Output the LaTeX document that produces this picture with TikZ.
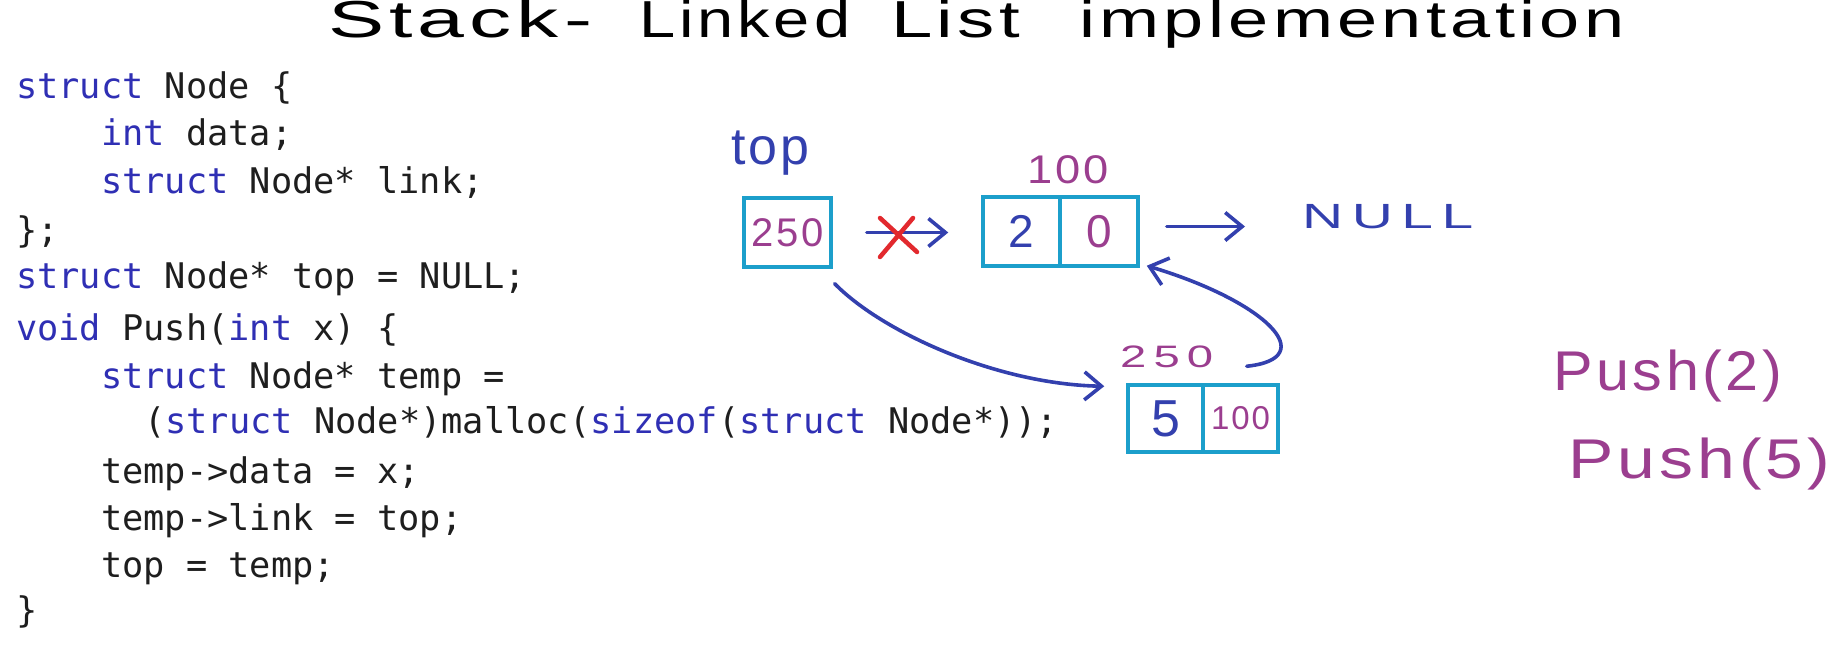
\documentclass[tikz,border=0pt]{standalone}
\usepackage{fontspec}
\usepackage{graphicx}
\setmainfont{Liberation Sans}
\newfontfamily\codefont{DejaVu Sans Mono}
\newfontfamily\hand[LetterSpace=6]{Liberation Sans}
\newfontfamily\handmid[LetterSpace=15]{Liberation Sans}
\usetikzlibrary{arrows.meta}
\definecolor{kw}{HTML}{2F2FB4}
\definecolor{codeblack}{HTML}{1E1E1E}
\definecolor{boxcol}{HTML}{1C9FCB}
\definecolor{inkblue}{HTML}{3340AE}
\definecolor{inkpurple}{HTML}{9B3E8F}
\definecolor{inkred}{HTML}{E2292E}
\newcommand{\kw}[1]{\textcolor{kw}{#1}}
\newcommand{\fitw}[2]{\resizebox{#1}{\height}{#2}}
\begin{document}
\begin{tikzpicture}[x=1pt,y=-1pt,
  code/.style={anchor=base west, inner sep=0, font=\codefont\fontsize{35.3}{40}\selectfont, text=codeblack},
  cell/.style={draw=boxcol, line width=3.5pt, inner sep=0},
  ink/.style={text=inkblue, inner sep=0},
  pink/.style={text=inkpurple, inner sep=0},
  arr/.style={draw=inkblue, line width=3.6pt, line cap=round, line join=round,
    -{Straight Barb[length=17pt,width=28pt]}},
  xmark/.style={draw=inkred, line width=4.5pt, line cap=round}
]
\fill[white] (0,0) rectangle (1839,661);
\useasboundingbox (0,0) rectangle (1839,661);

% title
\node[anchor=base west, inner sep=0, text=black, font=\hand\fontsize{52}{52}\selectfont] (title) at (328,38)
  {\fitw{264pt}{Stack-}\hspace{47pt}\fitw{211pt}{Linked}\hspace{41pt}\fitw{129pt}{List}\hspace{59pt}\fitw{545pt}{implementation}};

% code
\node[code] (c1) at (16,98) {\kw{struct} Node \{};
\node[code] (c2) at (101,145) {\kw{int} data;};
\node[code] (c3) at (101,193) {\kw{struct} Node* link;};
\node[code] (c4) at (16,242) {\};};
\node[code] (c5) at (16,288) {\kw{struct} Node* top = NULL;};
\node[code] (c6) at (16,340) {\kw{void} Push(\kw{int} x) \{};
\node[code] (c7) at (101,388) {\kw{struct} Node* temp =};
\node[code] (c8) at (144,433) {(\kw{struct} Node*)malloc(\kw{sizeof}(\kw{struct} Node*));};
\node[code] (c9) at (101,483) {temp->data = x;};
\node[code] (c10) at (101,530) {temp->link = top;};
\node[code] (c11) at (101,577) {top = temp;};
\node[code] (c12) at (16,622) {\}};

% boxes
\node[cell, minimum width=87pt, minimum height=69pt, pink, font=\hand\fontsize{40}{40}\selectfont] (topbox) at (787.5,232.5) {250};
\node[cell, minimum width=77pt, minimum height=69pt, ink, font=\hand\fontsize{46}{46}\selectfont] (n1a) at (1021.5,231.5) {2};
\node[cell, minimum width=78pt, minimum height=69pt, pink, font=\hand\fontsize{46}{46}\selectfont] (n1b) at (1099,231.5) {0};
\node[cell, minimum width=75pt, minimum height=67pt, ink, font=\hand\fontsize{52}{52}\selectfont] (n2a) at (1165.5,418.5) {5};
\node[cell, minimum width=75pt, minimum height=67pt, pink, font=\hand\fontsize{33}{33}\selectfont] (n2b) at (1240.5,418.5) {100};

% labels
\node[ink, anchor=base west, font=\hand\fontsize{52}{52}\selectfont] (toplbl) at (731,164) {top};
\node[pink, anchor=base west, font=\hand\fontsize{40}{40}\selectfont] (lbl100) at (1027,183) {\fitw{81pt}{100}};
\node[ink, anchor=base west, font=\handmid\fontsize{35}{35}\selectfont] (null) at (1302,228) {\fitw{171pt}{NULL}};
\node[pink, anchor=base west, font=\handmid\fontsize{31}{31}\selectfont] (lbl250) at (1120,367) {\fitw{93pt}{250}};
\node[pink, anchor=base west, font=\hand\fontsize{56}{56}\selectfont] (push2) at (1553,390) {\fitw{229pt}{Push(2)}};
\node[pink, anchor=base west, font=\hand\fontsize{56}{56}\selectfont] (push5) at (1568,478) {\fitw{262pt}{Push(5)}};

% connectors
\draw[arr, shorten <=34pt, shorten >=33pt] (topbox.east) -- (topbox.east -| n1a.west);
\draw[xmark] (880,218) -- (917,252) (880,257) -- (913,218);
\draw[arr, shorten <=27pt, shorten >=57pt] ([yshift=5pt]n1b.east) -- ([yshift=5pt]n1b.east -| null.west);
\draw[arr] ([shift={(2,15)}]topbox.south east) .. controls +(47,48) and +(-108,-2) .. ([shift={(-22,3)}]n2a.north west);
\draw[arr] ([shift={(-33,-17)}]n2b.north east) .. controls +(75,-8) and +(120,36) .. ([shift={(7,-2)}]n1b.south east);
\end{tikzpicture}
\end{document}
